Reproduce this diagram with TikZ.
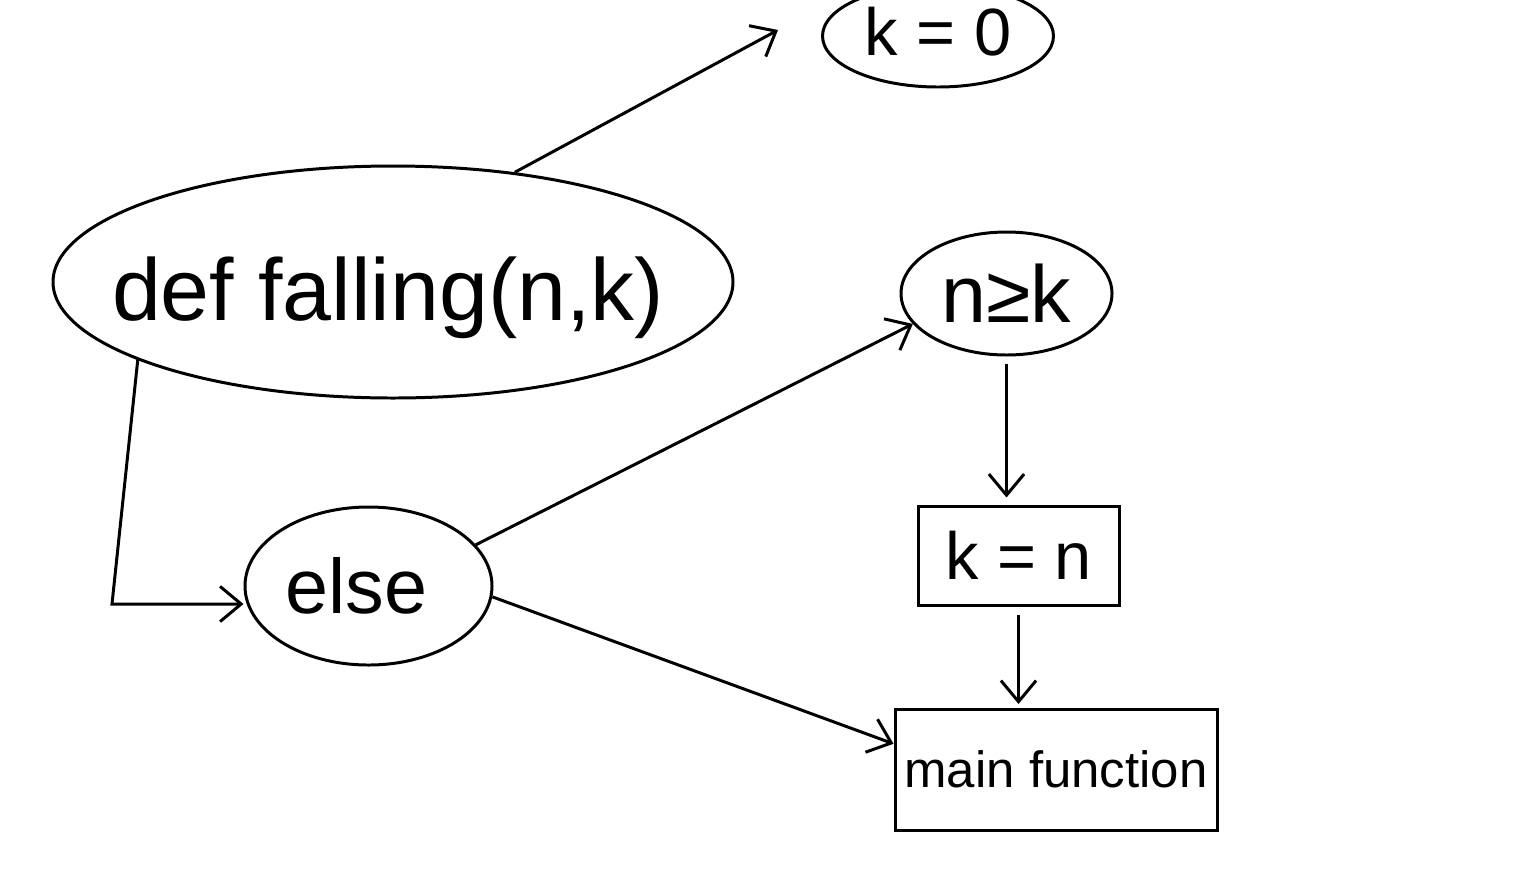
\documentclass[tikz,border=0pt]{standalone}
\usepackage{fontspec}
\setmainfont{Liberation Sans}
\usetikzlibrary{shapes.geometric,arrows.meta}

\tikzset{
  stroke/.style={line width=0.85pt, draw=black},
  oval/.style={stroke, ellipse, inner sep=0pt},
  boxnode/.style={stroke, rectangle, inner sep=0pt},
  link/.style={line width=0.85pt, -{Straight Barb[length=6pt,width=10pt,line width=0.85pt]}},
}
\newcommand{\fsz}[1]{\fontsize{#1}{#1}\selectfont}

\begin{document}
\begin{tikzpicture}
\useasboundingbox (0,0) rectangle (15.36,-8.8);
\clip (0,0) rectangle (15.36,-8.8);

% ovals
\node[oval, minimum width=2.31cm, minimum height=1.02cm,
      label={[font=\fsz{19}, yshift=0.04cm]center:k = 0}] (k0) at (9.38,-0.36) {};
\node[oval, minimum width=6.80cm, minimum height=2.32cm,
      label={[font=\fsz{25}, yshift=-0.16cm, xshift=-0.05cm]center:def falling(n,k)}] (def) at (3.93,-2.82) {};
\node[oval, minimum width=2.11cm, minimum height=1.23cm,
      label={[font=\fsz{23}]center:n≥k}] (ngk) at (10.065,-2.935) {};
\node[oval, minimum width=2.47cm, minimum height=1.58cm,
      label={[font=\fsz{22}, xshift=-0.12cm]center:else}] (else) at (3.685,-5.86) {};

% boxes
\node[boxnode, minimum width=2.01cm, minimum height=0.99cm,
      font=\fsz{19}] (kn) at (10.185,-5.555) {k = n};
\node[boxnode, minimum width=3.22cm, minimum height=1.21cm,
      font=\fsz{14.5}] (main) at (10.56,-7.695) {main function};

% free ends and bends
\coordinate (k0tip) at (7.78,-0.30);
\coordinate (bend) at (1.12,-6.04);

% connectors
\draw[link] (def.42) -- (k0tip);
\draw[link] (def.197) -- (bend) -- (else.west |- bend);
\draw[link] (else.21) -- (ngk.198);
\draw[link] (else.-5) -- (main.171);
\draw[link, shorten <=2pt, shorten >=2pt] (ngk.south) -- (ngk.south |- kn.north);
\draw[link, shorten <=2.5pt, shorten >=1pt] (kn.south) -- (kn.south |- main.north);
\end{tikzpicture}
\end{document}
